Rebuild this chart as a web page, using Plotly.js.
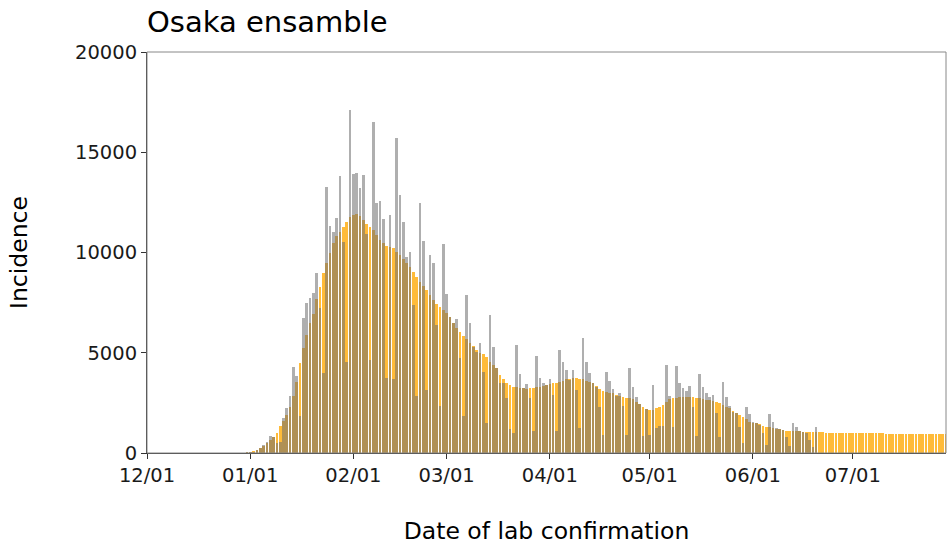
<!DOCTYPE html>
<html>
<head>
<meta charset="utf-8">
<script src="https://cdn.plot.ly/plotly-3.0.1.min.js"></script>
<style>html,body{margin:0;padding:0;background:#fff;}#chart{width:947px;height:545px;}</style>
</head>
<body>
<div id="chart"></div>
<script>
// first bar date (index 0) ; one bar per day
const startDate = '2021-12-30';

// ensemble estimate (orange), daily from 2021-12-30 to 2022-07-29
const ensembleValues = [
  20,40,70,110,160,240,350,480,640,820,
  1010,1350,1610,1900,2310,2850,3550,4500,5220,5880,
  6500,6950,7660,8290,8960,9460,9960,10450,10820,11040,
  11290,11530,11780,11870,11900,11800,11620,11400,11250,11120,
  10870,10620,10450,10340,10290,10200,10040,9870,9660,9460,
  9290,9040,8790,8540,8330,8130,7880,7630,7450,7300,
  7130,6960,6760,6500,6250,6020,5830,5670,5500,5320,
  5140,4990,4920,4800,4550,4390,4220,3890,3670,3510,
  3390,3310,3270,3230,3220,3210,3220,3250,3300,3310,
  3340,3390,3440,3470,3510,3560,3610,3670,3710,3720,
  3720,3710,3670,3610,3560,3470,3340,3170,3110,3060,
  3010,2970,2890,2840,2810,2760,2730,2680,2560,2440,
  2280,2180,2140,2140,2230,2280,2390,2560,2680,2730,
  2760,2810,2810,2810,2810,2780,2760,2730,2680,2660,
  2640,2610,2560,2480,2390,2310,2250,2110,2010,1900,
  1780,1680,1560,1510,1480,1430,1360,1310,1280,1230,
  1200,1180,1150,1110,1100,1100,1090,1080,1070,1050,
  1040,1035,1030,
  1030,1025,1020,1015,1010,1005,1000,1000,995,995,
  990,990,985,985,980,980,980,975,975,975,
  970,970,970,970,965,965,965,965,965,960,
  960,960,960,960,960,960,960,960,960
];

// observed incidence by date of lab confirmation (grey), daily from 2021-12-30
const observedValues = [
  20,30,50,60,170,250,420,560,860,780,
  520,560,1750,2250,2850,4300,3850,1850,6710,7460,
  7740,7960,8990,7250,3970,13280,11320,11040,11700,13800,
  10500,4550,17100,13940,13980,13200,13860,10900,4640,16520,
  12450,12560,11670,3720,11870,3670,15720,12860,11530,9790,
  10040,7380,2860,12480,10570,3140,9900,9460,6400,2340,
  10400,7930,6800,6470,6680,4720,1845,7880,6500,5300,
  5050,5500,4050,1480,6880,5270,4220,3470,3470,2730,
  1180,980,5380,3940,3220,3440,2730,1080,4840,3720,
  3470,3390,3670,2890,1110,5140,4550,4140,3640,4140,
  3140,1260,5720,4550,4010,3470,3310,2310,900,4060,
  3610,3170,2840,2970,2340,900,4220,3270,2810,2440,
  850,2180,900,3390,1230,1350,1350,4390,2840,1310,
  4340,3470,3220,3110,3340,2310,850,3940,3270,2970,
  2810,2890,1980,780,3520,2810,2340,2060,2010,1310,
  480,2280,1940,1560,1480,1400,980,400,1940,1560,
  1230,1180,1150,810,350,1510,1310,1110,1060,1010,
  650,320,1310
];

const xTickLabels = ['12/01','01/01','02/01','03/01','04/01','05/01','06/01','07/01'];
const xTickDates  = ['2021-12-01','2022-01-01','2022-02-01','2022-03-01','2022-04-01','2022-05-01','2022-06-01','2022-07-01'];
const yTickValues = [0,5000,10000,15000,20000];

function dayList(n) {
  const out = [];
  const t0 = Date.parse(startDate + 'T00:00:00Z');
  for (let i = 0; i < n; i++) {
    out.push(new Date(t0 + i * 86400000).toISOString().slice(0, 10));
  }
  return out;
}

const DAY = 86400000;
const FONT = 'DejaVu Sans, sans-serif';

const traces = [
  {
    type: 'bar',
    x: dayList(ensembleValues.length),
    y: ensembleValues,
    width: 0.8 * DAY,
    marker: {color: 'rgba(255,178,30,0.88)', line: {width: 0}},
    hoverinfo: 'x+y',
    showlegend: false
  },
  {
    type: 'bar',
    x: dayList(observedValues.length),
    y: observedValues,
    width: 0.8 * DAY,
    marker: {color: 'rgba(110,110,110,0.55)', line: {width: 0}},
    hoverinfo: 'x+y',
    showlegend: false
  }
];

const layout = {
  width: 947,
  height: 545,
  margin: {l: 147, r: 1, t: 52, b: 92},
  paper_bgcolor: '#ffffff',
  plot_bgcolor: '#ffffff',
  barmode: 'overlay',
  bargap: 0,
  font: {family: FONT, color: '#000'},
  title: {
    text: 'Osaka ensamble',
    font: {family: FONT, size: 29, color: '#000'},
    xref: 'container', yref: 'container',
    x: 147 / 947, xanchor: 'left',
    y: 1 - 22 / 545, yanchor: 'middle'
  },
  xaxis: {
    type: 'date',
    range: ['2021-12-01', '2022-07-29'],
    tickvals: xTickDates,
    ticktext: xTickLabels,
    ticks: 'outside',
    ticklen: 5,
    tickwidth: 1,
    tickcolor: '#333',
    showline: true,
    linecolor: '#333',
    linewidth: 1,
    showgrid: false,
    zeroline: false,
    tickfont: {family: FONT, size: 19.5, color: '#1a1a1a'},
    title: {text: 'Date of lab confirmation', font: {family: FONT, size: 23.5, color: '#000'}, standoff: 36}
  },
  yaxis: {
    range: [0, 20000],
    tickvals: yTickValues,
    tickformat: 'd',
    ticks: 'outside',
    ticklen: 5,
    tickwidth: 1,
    tickcolor: '#333',
    showline: true,
    linecolor: '#333',
    linewidth: 1,
    showgrid: false,
    zeroline: false,
    tickfont: {family: FONT, size: 19.5, color: '#1a1a1a'},
    title: {text: 'Incidence', font: {family: FONT, size: 23.5, color: '#000'}, standoff: 40}
  },
  shapes: [
    {type: 'rect', xref: 'paper', yref: 'paper', x0: 0, x1: 1, y0: 0, y1: 1,
     line: {color: '#888', width: 1}, fillcolor: 'rgba(0,0,0,0)', layer: 'above'}
  ]
};

Plotly.newPlot('chart', traces, layout, {displayModeBar: false, staticPlot: true});
</script>
</body>
</html>
